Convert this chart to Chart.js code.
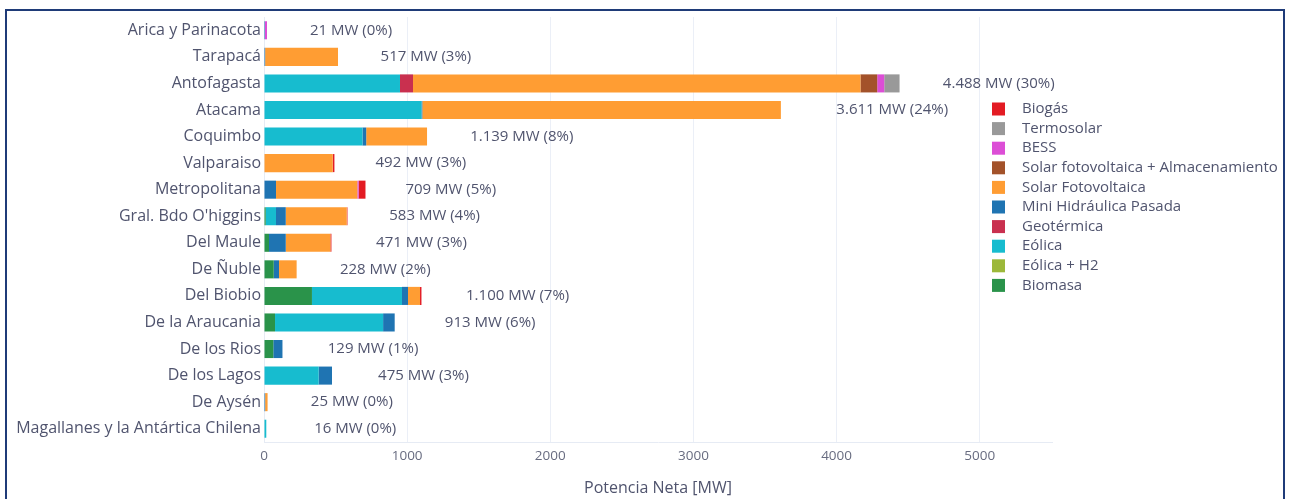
<!DOCTYPE html>
<html>
<head>
<meta charset="utf-8">
<script src="https://cdn.jsdelivr.net/npm/chart.js@4.4.1/dist/chart.umd.min.js"></script>
<style>
  html, body { margin: 0; padding: 0; background: #fff; }
  #wrap { position: relative; width: 1290px; height: 499px; overflow: hidden; }
  #myChart { position: absolute; left: 0; top: 0; }
  #frame {
    position: absolute; left: 5px; top: 9px; width: 1276px; height: 540px;
    border: 2.5px solid #1f3b78; pointer-events: none;
  }
</style>
</head>
<body>
<div id="wrap">
  <canvas id="myChart" width="1290" height="499"></canvas>
  <div id="frame"></div>
</div>
<script>
const regions = [
  'Arica y Parinacota', 'Tarapacá', 'Antofagasta', 'Atacama', 'Coquimbo', 'Valparaiso',
  'Metropolitana', "Gral. Bdo O'higgins", 'Del Maule', 'De Ñuble', 'Del Biobio',
  'De la Araucania', 'De los Rios', 'De los Lagos', 'De Aysén', 'Magallanes y la Antártica Chilena'
];

// MW per technology and region (same order as regions)
const biomasa    = [0, 0, 0, 0, 0, 0, 0, 12, 35, 68, 335, 77, 65, 0, 0, 0];
const eolicaH2   = [0, 0, 0, 0, 0, 0, 0, 0, 0, 0, 0, 0, 0, 0, 0, 0];
const eolica     = [0, 0, 950, 1100, 688, 0, 0, 72, 0, 0, 629, 755, 0, 382, 0, 16];
const geotermica = [0, 0, 91, 0, 0, 0, 0, 0, 0, 0, 0, 0, 0, 0, 0, 0];
const miniHidro  = [7, 8, 0, 6, 26, 0, 84, 68, 117, 37, 42, 81, 64, 93, 8, 0];
const solarFV    = [0, 509, 3126, 2505, 425, 480, 568, 426, 312, 123, 84, 0, 0, 0, 17, 0];
const solarAlm   = [0, 0, 117, 0, 0, 0, 0, 0, 0, 0, 0, 0, 0, 0, 0, 0];
const bess       = [14, 0, 49, 0, 0, 0, 9, 0, 0, 0, 0, 0, 0, 0, 0, 0];
const termosolar = [0, 0, 107, 0, 0, 0, 0, 0, 0, 0, 0, 0, 0, 0, 0, 0];
const biogas     = [0, 0, 0, 0, 0, 12, 48, 5, 7, 0, 10, 0, 0, 0, 0, 0];

// total labels and where they sit (MW, text centre)
const totalLabels = [
  '21 MW (0%)', '517 MW (3%)', '4.488 MW (30%)', '3.611 MW (24%)', '1.139 MW (8%)', '492 MW (3%)',
  '709 MW (5%)', '583 MW (4%)', '471 MW (3%)', '228 MW (2%)', '1.100 MW (7%)',
  '913 MW (6%)', '129 MW (1%)', '475 MW (3%)', '25 MW (0%)', '16 MW (0%)'
];
const labelPos = [608, 1131, 5133, 4389, 1801, 1096, 1305, 1192, 1100, 847, 1772, 1580, 762, 1114, 614, 637];

const xTicks = [0, 1000, 2000, 3000, 4000, 5000];

const FONT = "'Open Sans', sans-serif";
const TEXT = '#50546e';

const series = [
  { label: 'Biomasa', data: biomasa, color: '#2a934a' },
  { label: 'Eólica + H2', data: eolicaH2, color: '#9cb83a' },
  { label: 'Eólica', data: eolica, color: '#17bccf' },
  { label: 'Geotérmica', data: geotermica, color: '#c9304f' },
  { label: 'Mini Hidráulica Pasada', data: miniHidro, color: '#1f74b2' },
  { label: 'Solar Fotovoltaica', data: solarFV, color: '#ff9d33' },
  { label: 'Solar fotovoltaica + Almacenamiento', data: solarAlm, color: '#a3522a' },
  { label: 'BESS', data: bess, color: '#dc4ed6' },
  { label: 'Termosolar', data: termosolar, color: '#999999' },
  { label: 'Biogás', data: biogas, color: '#e31b23' },
];

// text after each bar
const totalsPlugin = {
  id: 'totals',
  afterDatasetsDraw(chart) {
    const { ctx, scales: { x, y } } = chart;
    ctx.save();
    ctx.font = '15px ' + FONT;
    ctx.fillStyle = TEXT;
    ctx.textAlign = 'center';
    ctx.textBaseline = 'middle';
    totalLabels.forEach((t, i) => {
      ctx.fillText(t, x.getPixelForValue(labelPos[i]), y.getPixelForValue(i));
    });
    ctx.restore();
  }
};

// legend drawn over the right side, last trace on top
const legendPlugin = {
  id: 'sideLegend',
  afterDraw(chart) {
    const { ctx } = chart;
    const items = chart.data.datasets.slice().reverse();
    ctx.save();
    ctx.font = '15px ' + FONT;
    ctx.textBaseline = 'middle';
    items.forEach((ds, i) => {
      const cy = 109 + i * 19.6;
      ctx.fillStyle = ds.backgroundColor;
      ctx.fillRect(992, cy - 6.5, 13, 13);
      ctx.fillStyle = TEXT;
      ctx.fillText(ds.label, 1022, cy);
    });
    ctx.restore();
  }
};

new Chart(document.getElementById('myChart').getContext('2d'), {
  type: 'bar',
  data: {
    labels: regions,
    datasets: series.map(s => ({
      label: s.label,
      data: s.data,
      backgroundColor: s.color,
      borderWidth: 0,
      barPercentage: 0.68,
      categoryPercentage: 1.0,
    })),
  },
  options: {
    indexAxis: 'y',
    responsive: false,
    animation: false,
    layout: { padding: { top: 17, right: 238, left: 0, bottom: 0 } },
    plugins: {
      legend: { display: false },
      tooltip: { enabled: false },
    },
    scales: {
      x: {
        stacked: true,
        min: 0,
        max: 5505,
        afterBuildTicks: s => { s.ticks = xTicks.map(v => ({ value: v })); },
        afterFit: s => { s.height = 57; },
        grid: { color: '#ebeff7', drawTicks: false },
        border: { color: '#e6ebf4' },
        ticks: {
          color: '#686c80',
          font: { family: FONT, size: 13.5 },
          padding: 6,
          callback: v => String(v),
        },
        title: {
          display: true,
          text: 'Potencia Neta [MW]',
          color: TEXT,
          font: { family: FONT, size: 16 },
          padding: { top: 0, bottom: 1 },
        },
      },
      y: {
        stacked: true,
        afterFit: s => { s.width = 264; },
        grid: { display: false, drawTicks: false },
        border: { color: '#e6ebf4' },
        ticks: { color: TEXT, font: { family: FONT, size: 16 }, padding: 3, autoSkip: false },
      },
    },
  },
  plugins: [totalsPlugin, legendPlugin],
});
</script>
</body>
</html>
